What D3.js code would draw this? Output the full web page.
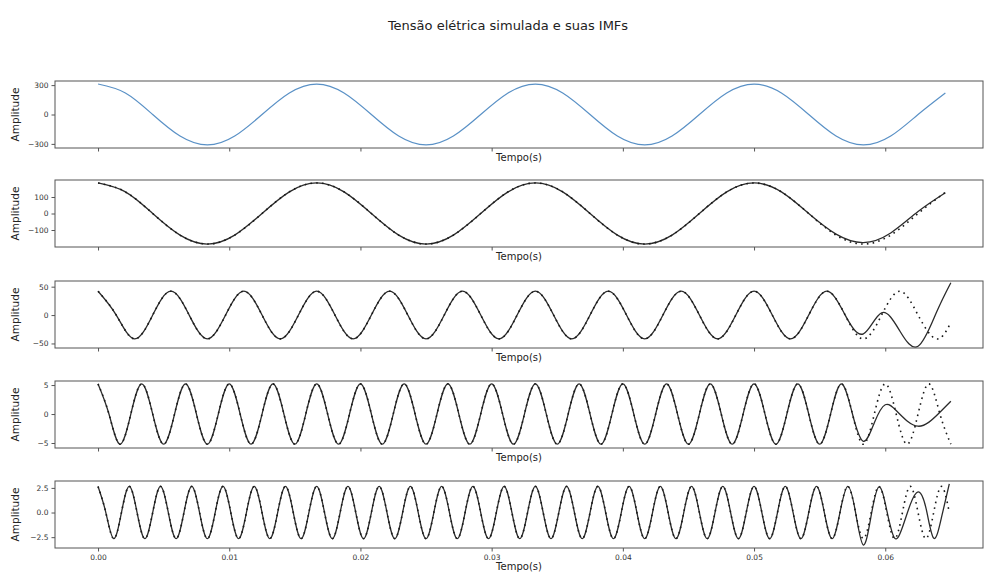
<!DOCTYPE html>
<html>
<head>
<meta charset="utf-8">
<script src="https://cdn.jsdelivr.net/npm/d3@7"></script>
<style>
  body { margin: 0; background: #fff; }
  svg { display: block; font-family: "DejaVu Sans", sans-serif; }
</style>
</head>
<body>
<svg id="chart" width="988" height="574"></svg>
<script>
// ---- data -------------------------------------------------------------
const chartTitle = "Tensão elétrica simulada e suas IMFs";
const xLabel = "Tempo(s)";
const yLabel = "Amplitude";
const xTicks = [0.00, 0.01, 0.02, 0.03, 0.04, 0.05, 0.06];
const signalEnd = 0.065;

// simulated voltage (60 Hz), sampled every eighth of a period (1/480 s)
const slowStep = 1 / 480;
const signalValue = [
  311, 220, 0, -220, -311, -220, 0, 220,
  311, 220, 0, -220, -311, -220, 0, 220,
  311, 220, 0, -220, -311, -220, 0, 220,
  311, 220, 0, -220, -311, -220, 0, 220];

// IMF 1 (60 Hz) and its reference component, same sampling
const comp1Value = [
  185, 131, 0, -131, -185, -131, 0, 131,
  185, 131, 0, -131, -185, -131, 0, 131,
  185, 131, 0, -131, -185, -131, 0, 131,
  185, 131, 0, -131, -185, -131, 0, 128];
const imf1Tail = [-125, -176, -118, 12, 126];   // from sample 27 on

// IMF 2 (180 Hz), quarter-period step 1/720 s, last sample at 0.065 s
const imf2Step = 1 / 720;
const comp2Value = [
  42, 0, -42, 0, 42, 0, -42, 0, 42, 0, -42, 0, 42, 0, -42, 0,
  42, 0, -42, 0, 42, 0, -42, 0, 42, 0, -42, 0, 42, 0, -42, 0,
  42, 0, -42, 0, 42, 0, -42, 0, 42, 0, -42, 0, 42, 0, -42, -13];
const imf2Tail = [-33, 4, -28, -55, 4, 57];    // from sample 42 on

// IMF 3 (300 Hz), quarter-period step 1/1200 s
const imf3Step = 1 / 1200;
const comp3Value = [
  5.2, 0, -5.2, 0, 5.2, 0, -5.2, 0, 5.2, 0, -5.2, 0, 5.2, 0, -5.2, 0,
  5.2, 0, -5.2, 0, 5.2, 0, -5.2, 0, 5.2, 0, -5.2, 0, 5.2, 0, -5.2, 0,
  5.2, 0, -5.2, 0, 5.2, 0, -5.2, 0, 5.2, 0, -5.2, 0, 5.2, 0, -5.2, 0,
  5.2, 0, -5.2, 0, 5.2, 0, -5.2, 0, 5.2, 0, -5.2, 0, 5.2, 0, -5.2, 0,
  5.2, 0, -5.2, 0, 5.2, 0, -5.2, 0, 5.2, 0, -5.2, 0, 5.2, 0, -5.2];
const imf3Tail = [-4.7, -1.5, 1.6, 0.6, -1.2, -2.1, -1.4, 0.3, 2.2];  // from sample 70 on

// IMF 4 (420 Hz), quarter-period step 1/1680 s
const imf4Step = 1 / 1680;
const comp4Value = [
  2.65, 0, -2.65, 0, 2.65, 0, -2.65, 0, 2.65, 0, -2.65, 0, 2.65, 0, -2.65, 0,
  2.65, 0, -2.65, 0, 2.65, 0, -2.65, 0, 2.65, 0, -2.65, 0, 2.65, 0, -2.65, 0,
  2.65, 0, -2.65, 0, 2.65, 0, -2.65, 0, 2.65, 0, -2.65, 0, 2.65, 0, -2.65, 0,
  2.65, 0, -2.65, 0, 2.65, 0, -2.65, 0, 2.65, 0, -2.65, 0, 2.65, 0, -2.65, 0,
  2.65, 0, -2.65, 0, 2.65, 0, -2.65, 0, 2.65, 0, -2.65, 0, 2.65, 0, -2.65, 0,
  2.65, 0, -2.65, 0, 2.65, 0, -2.65, 0, 2.65, 0, -2.65, 0, 2.65, 0, -2.65, 0,
  2.65, 0, -2.65, 0, 2.65, 0, -2.65, 0, 2.65, 0, -2.65, 0, 2.65, 0];
const imf4Tail = [0, -3.3, -0.3, 2.6, 0.2, -2.6, -1.5, 0.8, 2.1, 0.5, -2.6, -0.5, 2.9];  // from sample 97 on

// y-axis limits and tick values per panel
const yDomains = [[-342, 342], [-203, 203], [-58, 60], [-5.86, 5.7], [-3.6, 3.2]];
const yTicks = [[-300, 0, 300], [-100, 0, 100], [-50, 0, 50], [-5, 0, 5], [-2.5, 0, 2.5]];
const yFormats = [",d", ",d", ",d", ",d", ".1f"];

// ---- helpers ----------------------------------------------------------
const gridTimes = (step, n, lastTime) =>
  d3.range(n).map(i => (lastTime !== undefined && i === n - 1) ? lastTime : i * step);
const zip = (ts, vs) => ts.map((t, i) => [t, vs[i]]);

const slowTime = gridTimes(slowStep, signalValue.length);
const comp2Time = gridTimes(imf2Step, comp2Value.length, signalEnd);
const comp3Time = gridTimes(imf3Step, comp3Value.length);
const comp4Time = gridTimes(imf4Step, comp4Value.length);

const panels = [
  { series: [ { pts: zip(slowTime, signalValue), kind: "signal" } ] },
  { series: [
      { pts: zip(slowTime, comp1Value.slice(0, 27).concat(imf1Tail)), kind: "imf" },
      { pts: zip(slowTime, comp1Value), kind: "ref" } ] },
  { series: [
      { pts: zip(comp2Time, comp2Value.slice(0, 42).concat(imf2Tail)), kind: "imf" },
      { pts: zip(comp2Time, comp2Value), kind: "ref" } ] },
  { series: [
      { pts: zip(comp3Time, comp3Value.slice(0, 70).concat(imf3Tail)), kind: "imf" },
      { pts: zip(comp3Time, comp3Value), kind: "ref" } ] },
  { series: [
      { pts: zip(comp4Time, comp4Value.slice(0, 97).concat(imf4Tail)), kind: "imf" },
      { pts: zip(comp4Time, comp4Value), kind: "ref" } ] }
];

// ---- layout -----------------------------------------------------------
const svg = d3.select("#chart");
const left = 55, right = 983;
const panelTops = [81, 180, 281, 381, 481];
const panelH = 67;

const x = d3.scaleLinear().domain([-0.00328, 0.06745]).range([left, right]);

svg.append("text")
  .attr("x", 508).attr("y", 30)
  .attr("text-anchor", "middle")
  .attr("font-size", 13)
  .attr("fill", "#222")
  .text(chartTitle);

const styles = {
  signal: { stroke: "#5a91c6", width: 1.2, dash: null },
  imf:    { stroke: "#2b2b2b", width: 1.3, dash: null },
  ref:    { stroke: "#1a1a1a", width: 1.6, dash: "1.6 4.2" }
};

panels.forEach((p, i) => {
  const top = panelTops[i];
  const y = d3.scaleLinear().domain(yDomains[i]).range([top + panelH, top]);
  const g = svg.append("g");

  const clipId = "clip" + i;
  g.append("clipPath").attr("id", clipId)
    .append("rect").attr("x", left).attr("y", top)
    .attr("width", right - left).attr("height", panelH);

  const line = d3.line()
    .x(d => x(d[0])).y(d => y(d[1]))
    .curve(d3.curveNatural);

  p.series.forEach(s => {
    const st = styles[s.kind];
    g.append("path")
      .datum(s.pts)
      .attr("clip-path", `url(#${clipId})`)
      .attr("fill", "none")
      .attr("stroke", st.stroke)
      .attr("stroke-width", st.width)
      .attr("stroke-dasharray", st.dash)
      .attr("d", line);
  });

  // frame
  g.append("rect")
    .attr("x", left).attr("y", top)
    .attr("width", right - left).attr("height", panelH)
    .attr("fill", "none").attr("stroke", "#555").attr("stroke-width", 1);

  // y axis
  const ya = g.append("g").attr("transform", `translate(${left},0)`)
    .call(d3.axisLeft(y).tickValues(yTicks[i]).tickFormat(d3.format(yFormats[i]))
      .tickSize(3.5).tickPadding(3));
  ya.select(".domain").remove();

  // x axis
  const last = i === panels.length - 1;
  const xa = g.append("g").attr("transform", `translate(0,${top + panelH})`)
    .call(d3.axisBottom(x).tickValues(xTicks)
      .tickFormat(last ? d3.format(".2f") : () => "")
      .tickSize(3.5).tickPadding(3));
  xa.select(".domain").remove();

  [ya, xa].forEach(a => {
    a.selectAll("text").attr("font-size", 7.5).attr("fill", "#333")
      .attr("font-family", "DejaVu Sans, sans-serif");
    a.selectAll("line").attr("stroke", "#555");
  });

  // axis titles
  g.append("text")
    .attr("x", (left + right) / 2)
    .attr("y", last ? 570 : top + panelH + 13)
    .attr("text-anchor", "middle")
    .attr("font-size", 10)
    .attr("fill", "#222")
    .text(xLabel);

  g.append("text")
    .attr("transform", `translate(19,${top + panelH / 2}) rotate(-90)`)
    .attr("text-anchor", "middle")
    .attr("font-size", 10.5)
    .attr("fill", "#222")
    .text(yLabel);
});
</script>
</body>
</html>
